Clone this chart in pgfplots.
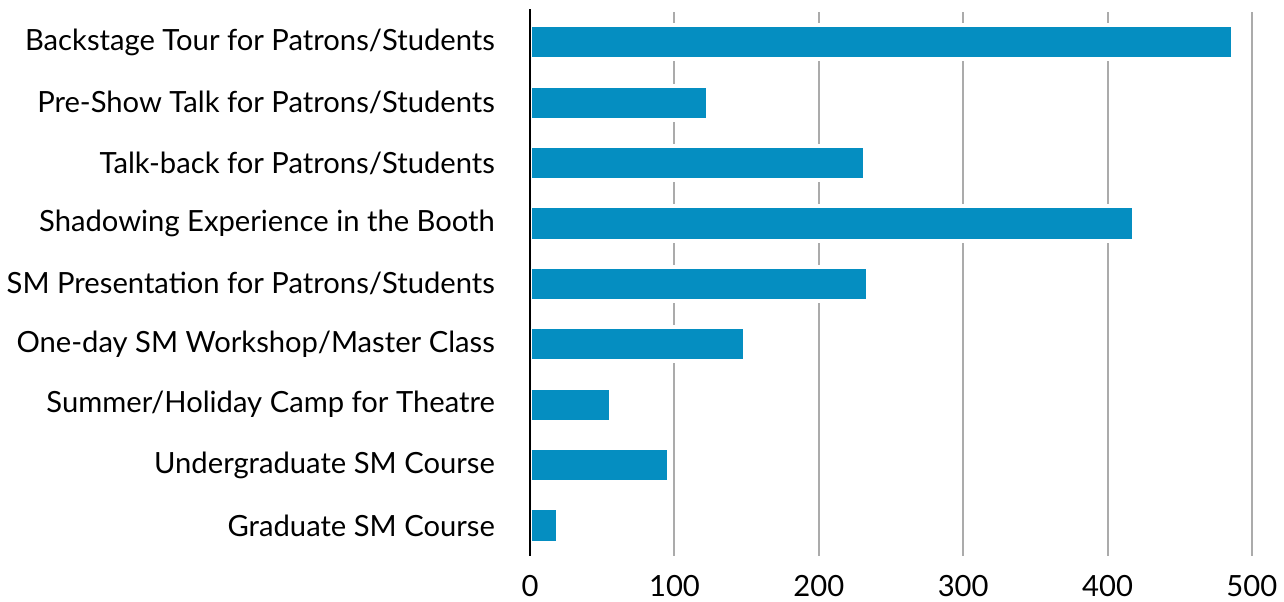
\documentclass[border=0pt]{standalone}
\usepackage{fontspec}
\setmainfont{Lato}
\usepackage{pgfplots}
\pgfplotsset{compat=1.18}
\definecolor{barblue}{HTML}{058EC1}
\definecolor{gridgray}{HTML}{ABABAB}
\begin{document}
\begin{tikzpicture}
\begin{axis}[
  xbar,
  width=358.5pt, height=270pt,
  scale only axis,
  xmin=0, xmax=500,
  ymin=-0.5, ymax=8.5,
  y dir=reverse,
  ytick={0,...,8},
  yticklabels={Backstage Tour for Patrons/Students,Pre-Show Talk for Patrons/Students,Talk-back for Patrons/Students,Shadowing Experience in the Booth,SM Presentation for Patrons/Students,One-day SM Workshop/Master Class,Summer/Holiday Camp for Theatre,Undergraduate SM Course,Graduate SM Course},
  xtick={100,200,300,400,500},
  extra x ticks={0},
  extra x tick style={grid style={draw=none}},
  xmajorgrids,
  grid style={gridgray, line width=1pt},
  axis line style={draw=none},
  major tick length=0pt,
  tick label style={font=\fontsize{14.5}{17}\selectfont},
  /pgf/number format/assume math mode=true,
  yticklabel style={xshift=-14pt},
  xticklabel style={inner ysep=2.5pt, yshift=-7pt},
  bar width=17pt,
  clip=false,
]
\addplot[fill=barblue, draw=white, line width=2pt] coordinates {
(487,0) (123,1) (232,2) (418,3) (234,4) (149,5) (56,6) (96,7) (19,8)};
\draw[black, line width=1.3pt] (axis cs:0,-0.55) -- (axis cs:0,8.5);
\end{axis}
\path ([yshift=6pt]current axis.north);
\end{tikzpicture}
\end{document}
